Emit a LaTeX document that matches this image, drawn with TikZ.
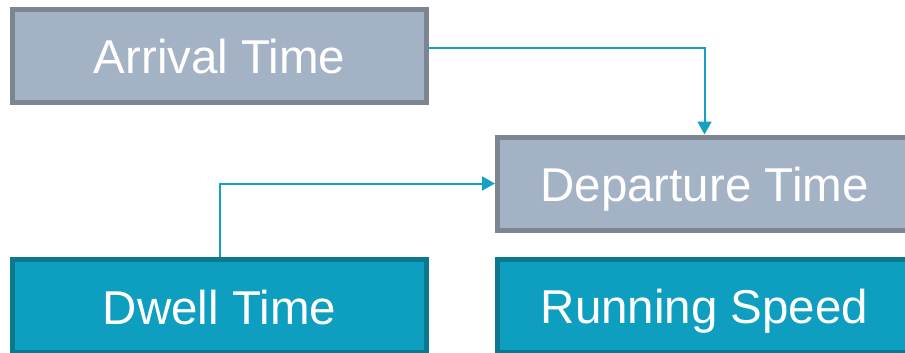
\documentclass[tikz,border=0pt]{standalone}
\usepackage{fontspec}
\setmainfont{Liberation Sans}
\usetikzlibrary{arrows.meta}
\definecolor{slatefill}{HTML}{A4B2C5}
\definecolor{slateedge}{HTML}{7B8692}
\definecolor{tealfill}{HTML}{0E9EC0}
\definecolor{tealedge}{HTML}{0B788E}
\definecolor{linkcol}{HTML}{16A1C2}
\tikzset{
  box/.style={rectangle, line width=5pt, minimum width=414pt, minimum height=93pt,
    inner sep=0pt, text height=36pt, text depth=0pt, text=white,
    font=\fontsize{47.5}{56}\selectfont},
  inbox/.style={box, fill=slatefill, draw=slateedge},
  keybox/.style={box, fill=tealfill, draw=tealedge},
  link/.style={draw=linkcol, line width=2pt, -{Triangle[width=14pt,length=13pt]}}
}
\begin{document}
\begin{tikzpicture}[x=1pt, y=-1pt]
  \useasboundingbox (0,0) rectangle (905,353);
  \begin{scope}
    \clip (0,0) rectangle (905,353);
    \node[inbox]  (arr)   at (219.5, 56)    {Arrival Time};
    \node[inbox]  (dep)   at (704.5, 183.5) {Departure Time};
    \node[keybox] (dwell) at (219.5, 306)   {Dwell Time};
    \node[keybox] (run)   at (704.5, 305.5) {Running Speed};
    \draw[link] ([yshift=8pt]arr.east) -| (dep.north);
    \draw[link] (dwell.north) |- (dep.west);
  \end{scope}
\end{tikzpicture}
\end{document}
